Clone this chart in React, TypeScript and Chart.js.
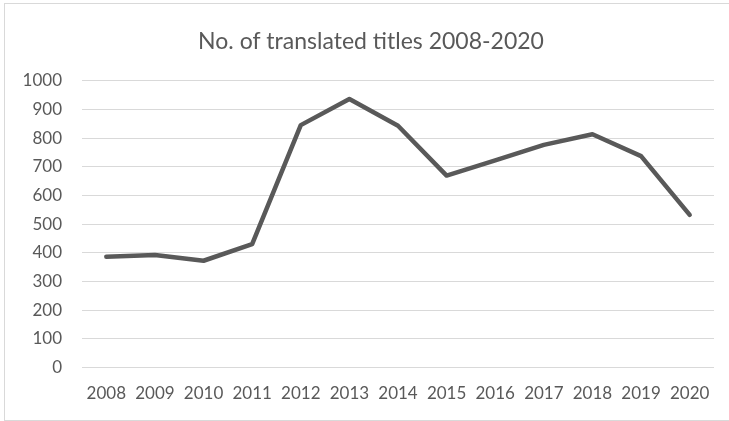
import React, { useEffect, useRef } from "react";
import { Chart, registerables } from "chart.js";

Chart.register(...registerables);

const years = ["2008", "2009", "2010", "2011", "2012", "2013", "2014", "2015", "2016", "2017", "2018", "2019", "2020"];
const titles = [386, 392, 372, 430, 845, 936, 843, 669, 722, 776, 813, 737, 532];
const chartTitle = "No. of translated titles 2008-2020";

const titlePlugin = {
  id: "offsetTitle",
  afterDraw(chart: any) {
    const ctx = chart.ctx;
    ctx.save();
    ctx.fillStyle = "#595959";
    ctx.font = "23px Lato";
    ctx.textAlign = "center";
    ctx.textBaseline = "middle";
    ctx.fillText(chartTitle, 366, 38);
    ctx.restore();
  },
};

export default function App() {
  const ref = useRef<HTMLCanvasElement | null>(null);
  useEffect(() => {
    if (!ref.current) return;
    const chart = new Chart(ref.current, {
      type: "line",
      data: {
        labels: years,
        datasets: [
          {
            data: titles,
            borderColor: "#595959",
            borderWidth: 4.5,
            pointRadius: 0,
            borderJoinStyle: "round",
            borderCapStyle: "round",
            tension: 0,
            fill: false,
          },
        ],
      },
      options: {
        animation: false,
        responsive: false,
        layout: { padding: { left: 0, right: 22, top: 76.7, bottom: 0 } },
        plugins: {
          legend: { display: false },
          tooltip: { enabled: false },
          title: { display: false },
        },
        scales: {
          x: {
            offset: true,
            grid: { display: false, drawTicks: false },
            border: { display: false },
            ticks: {
              color: "#595959",
              font: { family: "Lato", size: 17 },
              padding: 16,
              maxRotation: 0,
              autoSkip: false,
            },
            afterFit: (s: any) => {
              s.height = 52.6;
            },
          },
          y: {
            min: 0,
            max: 1000,
            ticks: {
              stepSize: 100,
              color: "#595959",
              font: { family: "Lato", size: 17 },
              padding: 20,
              callback: (v: any) => String(v),
            },
            grid: { color: "#d9d9d9", lineWidth: 1, drawTicks: false },
            border: { display: false },
            afterFit: (s: any) => {
              s.width = 77;
            },
          },
        },
      },
      plugins: [titlePlugin],
    });
    return () => chart.destroy();
  }, []);
  return (
    <div
      style={{
        position: "fixed",
        left: 4,
        top: 3,
        width: 733,
        height: 418,
        border: "1px solid #d9d9d9",
        boxSizing: "border-box",
        background: "#fff",
      }}
    >
      <canvas ref={ref} width={731} height={416} style={{ display: "block" }} />
    </div>
  );
}
